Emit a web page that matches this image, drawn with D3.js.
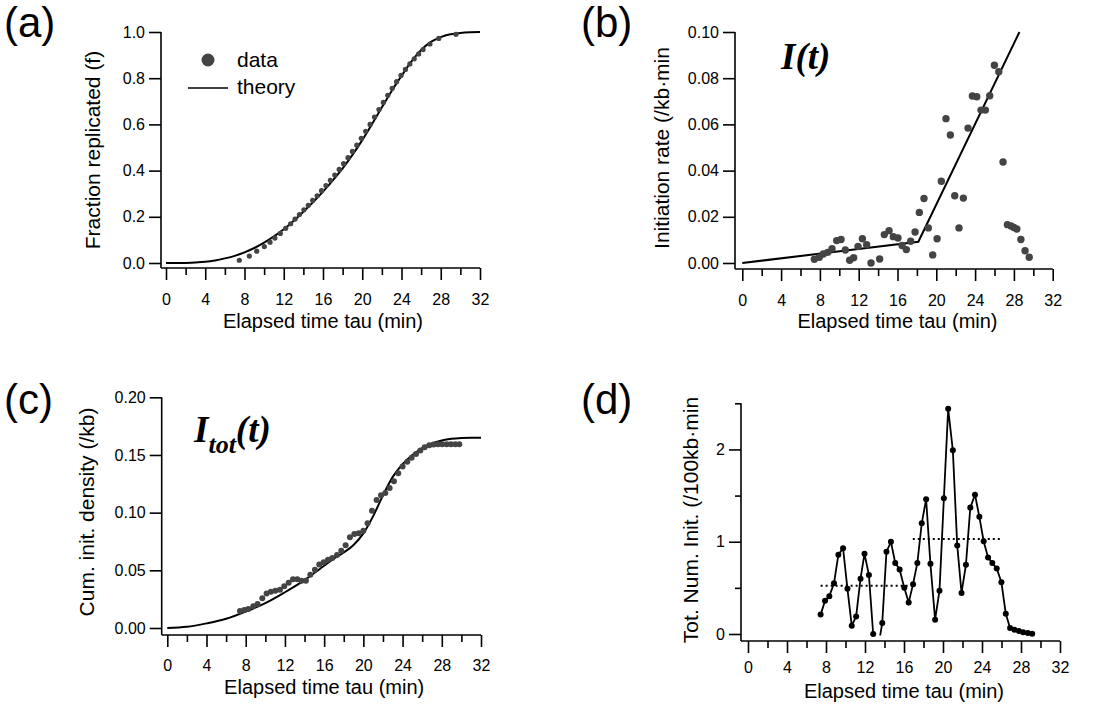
<!DOCTYPE html>
<html>
<head>
<meta charset="utf-8">
<script src="https://cdn.jsdelivr.net/npm/d3@7"></script>
<style>
  html, body { margin: 0; padding: 0; background: #fff; }
  svg { display: block; }
  text { font-family: "Liberation Sans", Arial, Helvetica, sans-serif; fill: #000; }
  .math { font-family: "Liberation Serif", "Times New Roman", serif; font-weight: bold; font-style: italic; }
</style>
</head>
<body>
<svg id="fig" width="1105" height="708"></svg>
<script>
// ---- shared axis ticks ----
const TIME_MAJOR = [0, 4, 8, 12, 16, 20, 24, 28, 32];
const TIME_MINOR = [2, 6, 10, 14, 18, 22, 26, 30];

// ---- (a) fraction replicated ----
const A_THEORY_T = [0, 1, 2, 3, 4, 5, 6, 7, 8, 9, 10, 11, 12, 13, 14, 15, 16, 17, 18, 19, 20, 21, 22, 23, 24, 25, 26, 27, 28, 29, 30, 31, 32];
const A_THEORY_F = [0, 0, 0.0005, 0.002, 0.005, 0.011, 0.02, 0.031, 0.046, 0.065, 0.088, 0.115, 0.146, 0.182, 0.222, 0.264, 0.309, 0.358, 0.41, 0.468, 0.532, 0.602, 0.674, 0.745, 0.81, 0.872, 0.922, 0.957, 0.978, 0.99, 0.996, 0.999, 1.0];
const A_DATA_T = [7.47, 8.49, 9.24, 10.02, 10.6, 11.1, 11.65, 12.2, 12.7, 13.15, 13.6, 14.05, 14.5, 14.95, 15.4, 15.85, 16.3, 16.75, 17.2, 17.65, 18.1, 18.55, 19.0, 19.45, 19.9, 20.35, 20.8, 21.25, 21.7, 22.15, 22.6, 23.05, 23.5, 23.95, 24.4, 24.85, 25.3, 25.75, 26.2, 26.9, 27.8, 29.55];
const A_DATA_F = [0.012, 0.030, 0.051, 0.071, 0.090, 0.108, 0.128, 0.150, 0.170, 0.190, 0.210, 0.230, 0.250, 0.271, 0.291, 0.313, 0.335, 0.358, 0.381, 0.405, 0.430, 0.456, 0.483, 0.510, 0.540, 0.570, 0.600, 0.632, 0.664, 0.695, 0.726, 0.756, 0.785, 0.812, 0.838, 0.862, 0.884, 0.905, 0.924, 0.948, 0.972, 0.990];
const A_YTICKS = [0, 0.2, 0.4, 0.6, 0.8, 1.0];

// ---- (b) initiation rate I(t) ----
const B_FIT_T = [0, 18.15, 28.57];
const B_FIT_I = [0, 0.0092, 0.100];
const B_DATA_T = [7.43, 7.94, 8.35, 8.8, 9.25, 9.73, 10.18, 10.62, 11.07, 11.48, 11.93, 12.38, 12.82, 13.27, 14.16, 14.64, 15.13, 15.57, 16.05, 16.47, 16.91, 17.36, 17.81, 18.25, 18.73, 19.18, 19.63, 20.08, 20.52, 21.0, 21.45, 21.9, 22.34, 22.79, 23.27, 23.72, 24.17, 24.61, 25.06, 25.51, 25.99, 26.44, 26.88, 27.33, 27.7, 28.0, 28.3, 28.72, 29.15, 29.58];
const B_DATA_I = [0.0016, 0.0025, 0.0039, 0.0046, 0.0062, 0.0097, 0.0102, 0.0056, 0.0012, 0.0023, 0.0072, 0.0105, 0.0079, 0.0000, 0.0017, 0.0123, 0.0140, 0.0114, 0.0108, 0.0076, 0.0058, 0.0094, 0.0134, 0.0219, 0.0279, 0.0152, 0.0035, 0.0105, 0.0354, 0.0625, 0.0554, 0.0291, 0.0152, 0.0281, 0.0584, 0.0723, 0.0720, 0.0662, 0.0662, 0.0724, 0.0856, 0.0828, 0.0437, 0.0166, 0.0160, 0.0154, 0.0147, 0.0102, 0.0053, 0.0025];
const B_YTICKS = [0, 0.02, 0.04, 0.06, 0.08, 0.10];

// ---- (c) cumulative initiation density ----
const C_THEORY_T = [0, 2, 4, 6, 8, 10, 12, 14, 16, 17, 18, 19, 20, 21, 22, 23, 24, 25, 26, 27, 28, 29, 30, 31, 32];
const C_THEORY_I = [0, 0.001, 0.004, 0.008, 0.0142, 0.0215, 0.031, 0.0415, 0.054, 0.06, 0.0655, 0.072, 0.082, 0.097, 0.115, 0.131, 0.142, 0.15, 0.156, 0.16, 0.1625, 0.164, 0.1647, 0.165, 0.165];
const C_DATA_T = [7.41, 7.85, 8.26, 8.77, 9.21, 9.69, 10.13, 10.57, 11.02, 11.49, 11.93, 12.38, 12.82, 13.26, 13.7, 14.14, 14.59, 15.06, 15.5, 15.95, 16.39, 16.83, 17.31, 17.75, 18.19, 18.63, 19.08, 19.52, 20.0, 20.43, 20.88, 21.35, 21.8, 22.24, 22.68, 23.12, 23.56, 24.0, 24.48, 24.92, 25.37, 25.81, 26.25, 26.73, 27.17, 27.61, 28.05, 28.5, 28.94, 29.38, 29.79];
const C_DATA_I = [0.0147, 0.0156, 0.0165, 0.0188, 0.0208, 0.0257, 0.030, 0.0315, 0.0324, 0.0332, 0.0361, 0.0393, 0.0422, 0.0422, 0.041, 0.041, 0.0462, 0.0506, 0.055, 0.0569, 0.0592, 0.0607, 0.0633, 0.067, 0.0717, 0.0786, 0.0815, 0.0821, 0.0844, 0.0908, 0.1017, 0.111, 0.115, 0.117, 0.1214, 0.1272, 0.1341, 0.140, 0.1442, 0.1477, 0.1509, 0.1538, 0.1566, 0.1584, 0.159, 0.1592, 0.1592, 0.1592, 0.1592, 0.1592, 0.1592];
const C_YTICKS = [0, 0.05, 0.10, 0.15, 0.20];

// ---- (d) total number of initiations ----
const D_DATA_T = [7.45, 7.9, 8.34, 8.82, 9.27, 9.75, 10.2, 10.64, 11.09, 11.54, 11.95, 12.4, 12.84, 13.27, 13.77, 14.2, 14.66, 15.1, 15.55, 16.03, 16.48, 16.93, 17.37, 17.82, 18.27, 18.71, 19.19, 19.64, 20.09, 20.53, 21.01, 21.46, 21.9, 22.35, 22.8, 23.28, 23.73, 24.17, 24.62, 25.06, 25.51, 25.99, 26.44, 26.88, 27.33, 27.78, 28.22, 28.7, 29.15];
const D_DATA_N = [0.21, 0.36, 0.41, 0.55, 0.86, 0.93, 0.49, 0.09, 0.19, 0.60, 0.87, 0.64, 0.00, -0.2, 0.12, 0.89, 1.00, 0.77, 0.70, 0.50, 0.34, 0.54, 0.77, 1.20, 1.46, 0.76, 0.155, 0.47, 1.47, 2.44, 1.99, 0.96, 0.445, 0.75, 1.37, 1.51, 1.27, 1.005, 0.83, 0.77, 0.71, 0.56, 0.22, 0.065, 0.047, 0.033, 0.02, 0.01, 0.003];
// dotted mean levels: [t start, t end, level]
const D_MEANS = [[7.45, 16.55, 0.524], [16.9, 26.06, 1.03]];
const D_YMAJOR = [0, 1, 2];
const D_YMINOR = [0.5, 1.5, 2.5];

const svg = d3.select('#fig');

// panel geometry in pixels (t=0 / t=32 positions, axis lines, y anchor)
function panel(L) {
  const g = svg.append('g');
  const x = d3.scaleLinear().domain([0, 32]).range([L.x0, L.x32]);
  const y = d3.scaleLinear().domain([0, L.yTop]).range([L.yZero, L.yTopPx]);

  // x axis
  const gx = g.append('g').attr('transform', `translate(0,${L.axisY})`);
  gx.call(d3.axisBottom(x).tickValues(TIME_MAJOR).tickSize(12).tickPadding(L.xPad).tickFormat(d3.format('d')));
  gx.append('g').call(d3.axisBottom(x).tickValues(TIME_MINOR).tickSize(7).tickFormat(''));
  gx.selectAll('.domain').remove();
  g.append('line').attr('x1', L.axisX).attr('x2', x(32)).attr('y1', L.axisY).attr('y2', L.axisY)
    .attr('stroke', '#000').attr('stroke-width', 1.6);

  // y axis
  const gy = g.append('g').attr('transform', `translate(${L.axisX},0)`);
  gy.call(d3.axisLeft(y).tickValues(L.yMajor).tickSize(12).tickPadding(4).tickFormat(L.yFmt));
  if (L.yMinor) gy.append('g').call(d3.axisLeft(y).tickValues(L.yMinor).tickSize(6).tickFormat(''));
  gy.selectAll('.domain').remove();
  g.append('line').attr('x1', L.axisX).attr('x2', L.axisX).attr('y1', y(L.yTop)).attr('y2', L.axisY)
    .attr('stroke', '#000').attr('stroke-width', 1.6);

  g.selectAll('.tick line').attr('stroke', '#000').attr('stroke-width', 1.6);
  g.selectAll('.tick text').style('font-size', '16px').attr('fill', '#000');

  // titles
  g.append('text').attr('x', x(16)).attr('y', L.axisY + L.xTitleDy)
    .attr('text-anchor', 'middle').style('font-size', '20px').text('Elapsed time tau (min)');
  g.append('text').attr('transform', `translate(${L.yTitleX},${L.yTitleY}) rotate(-90)`)
    .attr('text-anchor', 'middle').style('font-size', '21px').text(L.yTitle);
  g.append('text').attr('x', L.tagX).attr('y', L.tagY).style('font-size', '42px').text(L.tag);

  return { g, x, y };
}

// ---------- (a) ----------
{
  const { g, x, y } = panel({
    x0: 166, x32: 480, axisX: 161, axisY: 268, yZero: 263, yTopPx: 32, yTop: 1,
    yMajor: A_YTICKS, yFmt: d3.format('.1f'), xPad: 14, xTitleDy: 60,
    yTitle: 'Fraction replicated (f)', yTitleX: 100, yTitleY: 150,
    tag: '(a)', tagX: 4, tagY: 37
  });
  g.append('path').datum(A_THEORY_T.map((t, i) => [t, A_THEORY_F[i]]))
    .attr('fill', 'none').attr('stroke', '#000').attr('stroke-width', 2)
    .attr('d', d3.line().x(d => x(d[0])).y(d => y(d[1])).curve(d3.curveMonotoneX));
  g.selectAll('circle.pt').data(A_DATA_T.map((t, i) => [t, A_DATA_F[i]])).enter().append('circle')
    .attr('cx', d => x(d[0])).attr('cy', d => y(d[1])).attr('r', 2.6).attr('fill', '#444');
  // legend
  g.append('circle').attr('cx', 208).attr('cy', 60).attr('r', 6.5).attr('fill', '#444');
  g.append('text').attr('x', 237).attr('y', 67).style('font-size', '21px').text('data');
  g.append('line').attr('x1', 188).attr('x2', 228).attr('y1', 88).attr('y2', 88)
    .attr('stroke', '#000').attr('stroke-width', 1.6);
  g.append('text').attr('x', 237).attr('y', 94).style('font-size', '21px').text('theory');
}

// ---------- (b) ----------
{
  const { g, x, y } = panel({
    x0: 742.3, x32: 1052.7, axisX: 735, axisY: 269, yZero: 263, yTopPx: 32, yTop: 0.1,
    yMajor: B_YTICKS, yFmt: d3.format('.2f'), xPad: 14, xTitleDy: 59,
    yTitle: 'Initiation rate (/kb\u00b7min', yTitleX: 669, yTitleY: 148,
    tag: '(b)', tagX: 581, tagY: 37
  });
  g.append('path').datum(B_FIT_T.map((t, i) => [t, B_FIT_I[i]]))
    .attr('fill', 'none').attr('stroke', '#000').attr('stroke-width', 2)
    .attr('d', d3.line().x(d => x(d[0])).y(d => y(d[1])));
  g.selectAll('circle.pt').data(B_DATA_T.map((t, i) => [t, B_DATA_I[i]])).enter().append('circle')
    .attr('cx', d => x(d[0])).attr('cy', d => y(d[1])).attr('r', 3.7).attr('fill', '#444');
  g.append('text').attr('class', 'math').attr('x', 781).attr('y', 69).style('font-size', '37px').text('I(t)');
}

// ---------- (c) ----------
{
  const { g, x, y } = panel({
    x0: 167.3, x32: 481, axisX: 161.7, axisY: 635, yZero: 628, yTopPx: 397.3, yTop: 0.2,
    yMajor: C_YTICKS, yFmt: d3.format('.2f'), xPad: 13, xTitleDy: 59,
    yTitle: 'Cum. init. density (/kb)', yTitleX: 94, yTitleY: 512,
    tag: '(c)', tagX: 4, tagY: 414
  });
  g.append('path').datum(C_THEORY_T.map((t, i) => [t, C_THEORY_I[i]]))
    .attr('fill', 'none').attr('stroke', '#000').attr('stroke-width', 2)
    .attr('d', d3.line().x(d => x(d[0])).y(d => y(d[1])).curve(d3.curveMonotoneX));
  g.selectAll('circle.pt').data(C_DATA_T.map((t, i) => [t, C_DATA_I[i]])).enter().append('circle')
    .attr('cx', d => x(d[0])).attr('cy', d => y(d[1])).attr('r', 3).attr('fill', '#444');
  const lab = g.append('text').attr('class', 'math').attr('x', 194).attr('y', 442).style('font-size', '37px');
  lab.append('tspan').text('I');
  lab.append('tspan').attr('dy', 11).style('font-size', '26px').text('tot');
  lab.append('tspan').attr('dy', -11).text('(t)');
}

// ---------- (d) ----------
{
  const { g, x, y } = panel({
    x0: 748, x32: 1060, axisX: 741, axisY: 641, yZero: 634, yTopPx: 403.3, yTop: 2.5,
    yMajor: D_YMAJOR, yMinor: D_YMINOR, yFmt: d3.format('d'), xPad: 9, xTitleDy: 57,
    yTitle: 'Tot. Num. Init. (/100kb\u00b7min', yTitleX: 698, yTitleY: 520,
    tag: '(d)', tagX: 581, tagY: 414
  });
  svg.append('defs').append('clipPath').attr('id', 'clipD').append('rect')
    .attr('x', x(0)).attr('y', 380).attr('width', x(32) - x(0)).attr('height', y(0) + 1.5 - 380);
  const pts = D_DATA_T.map((t, i) => [t, D_DATA_N[i]]);
  g.append('path').datum(pts).attr('clip-path', 'url(#clipD)')
    .attr('fill', 'none').attr('stroke', '#000').attr('stroke-width', 1.8)
    .attr('d', d3.line().x(d => x(d[0])).y(d => y(d[1])));
  g.selectAll('circle.pt').data(pts.filter(d => d[1] >= 0)).enter().append('circle')
    .attr('cx', d => x(d[0])).attr('cy', d => y(d[1])).attr('r', 3).attr('fill', '#000');
  g.selectAll('line.mean').data(D_MEANS).enter().append('line')
    .attr('x1', d => x(d[0])).attr('x2', d => x(d[1])).attr('y1', d => y(d[2])).attr('y2', d => y(d[2]))
    .attr('stroke', '#000').attr('stroke-width', 2).attr('stroke-dasharray', '2 3');
}
</script>
</body>
</html>
